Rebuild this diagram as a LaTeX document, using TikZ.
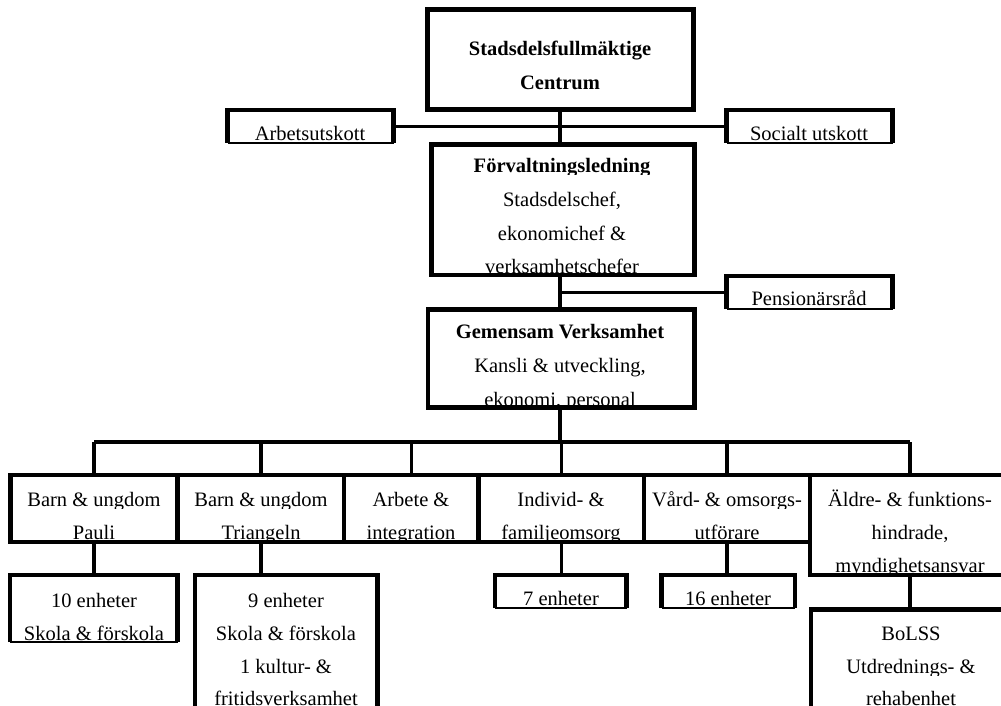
\documentclass[tikz,border=0pt]{standalone}
\usepackage{fontspec}
\setmainfont{Liberation Serif}

% one line of text, its descenders trimmed just under the baseline
\newcommand\cutline[4]{%
  \begin{scope}
    \clip ({#2-150},{#3-30}) rectangle ({#2+150},{#3+2});
    \node[txt] (#1) at (#2,#3) {#4};
  \end{scope}}
% one line of text, drawn whole
\newcommand\fullline[4]{\node[txt] (#1) at (#2,#3) {#4};}
% frame with heavy top and sides and a light bottom edge
\newcommand\lightbottom[1]{%
  \draw[heavy] (#1.south west) -- (#1.north west) -- (#1.north east) -- (#1.south east);
  \draw[light] (#1.south west) -- (#1.south east);}

\begin{document}
\begin{tikzpicture}[x=1pt,y=-1pt,
  box/.style={draw, line width=4.5pt, rectangle, inner sep=0pt, outer sep=0pt},
  openbox/.style={rectangle, inner sep=0pt, outer sep=0pt},
  heavy/.style={line width=4.5pt},
  light/.style={line width=2pt},
  link/.style={line width=3.5pt},
  txt/.style={anchor=base, inner sep=0pt, font=\fontsize{20.5}{33}\selectfont},
  bold/.style={font=\fontsize{20.5}{33}\selectfont\bfseries}]

\clip (0,0) rectangle (1001,706);
\fill[white] (0,0) rectangle (1001,706);

% ---- boxes ----
\node[box, minimum width=266pt, minimum height=100pt] (sdf) at (560.5,59.5) {};
\node[openbox, minimum width=166pt, minimum height=33pt] (arb) at (310.5,126.5) {};
\node[openbox, minimum width=166pt, minimum height=33pt] (soc) at (809.5,126.5) {};
\node[box, minimum width=263pt, minimum height=130.5pt] (forv) at (563,209.75) {};
\node[openbox, minimum width=166pt, minimum height=33pt] (pen) at (809.5,292.5) {};
\node[box, minimum width=266.5pt, minimum height=98pt] (gem) at (561,358.5) {};

\node[box, minimum width=167pt, minimum height=67pt] (bu1) at (94,508.5) {};
\node[box, minimum width=166.5pt, minimum height=67pt] (bu2) at (260.75,508.5) {};
\node[box, minimum width=134.5pt, minimum height=67pt] (arbi) at (411.25,508.5) {};
\node[box, minimum width=165.5pt, minimum height=67pt] (ifo) at (561.25,508.5) {};
\node[box, minimum width=166pt, minimum height=67pt] (vo) at (727,508.5) {};
\node[box, minimum width=200pt, minimum height=100pt] (aldre) at (910,525) {};

\node[openbox, minimum width=167.5pt, minimum height=67pt] (e10) at (93.75,608.5) {};
\node[box, minimum width=182.5pt, minimum height=145pt] (e9) at (286.25,647.5) {};
\node[openbox, minimum width=131.5pt, minimum height=33pt] (e7) at (560.75,591.5) {};
\node[openbox, minimum width=133.5pt, minimum height=33pt] (e16) at (728.25,591.5) {};
\node[box, minimum width=200pt, minimum height=111pt] (bolss) at (911,665) {};

\lightbottom{arb}
\lightbottom{soc}
\lightbottom{pen}
\lightbottom{e10}
\lightbottom{e7}
\lightbottom{e16}

% ---- connectors ----
\coordinate (bus) at (560,442);
\draw[link] (sdf.south -| bus) -- (forv.north -| bus);
\draw[link] (arb.east) -- (soc.west);
\draw[link] (forv.south -| bus) -- (gem.north -| bus);
\draw[link] (pen.west -| bus) -- (pen.west);
\draw[link] (gem.south -| bus) -- (bus);
\draw[link] (bu1.north |- bus) -- (aldre.north |- bus);
\foreach \n in {bu1,bu2,arbi,ifo,vo,aldre}
  \draw[link] (\n.north |- bus) -- (\n.north);
\draw[link] (bu1.south) -- (bu1.south |- e10.north);
\draw[link] (bu2.south) -- (bu2.south |- e9.north);
\draw[link] (ifo.south) -- (ifo.south |- e7.north);
\draw[link] (vo.south) -- (vo.south |- e16.north);
\draw[link] (aldre.south) -- (aldre.south |- bolss.north);

% ---- texts ----
\node[txt, bold] (t1) at (560,56) {Stadsdelsfullmäktige};
\node[txt, bold] (t2) at (560,90) {Centrum};
\cutline{t3}{310}{141}{Arbetsutskott}
\cutline{t4}{809}{141}{Socialt utskott}

\begin{scope}
  \clip (400,150) rectangle (720,174);
  \node[txt, bold] (t5) at (562,172) {Förvaltningsledning};
\end{scope}
\fullline{t6}{562}{206}{Stadsdelschef,}
\fullline{t7}{562}{240}{ekonomichef \&}
\cutline{t8}{562}{273}{verksamhetschefer}
\cutline{t9}{809}{305}{Pensionärsråd}

\node[txt, bold] (t10) at (560,338) {Gemensam Verksamhet};
\fullline{t11}{560}{372}{Kansli \& utveckling,}
\cutline{t12}{560}{406}{ekonomi, personal}

\cutline{t13}{94}{506}{Barn \& ungdom}
\cutline{t14}{94}{539}{Pauli}
\cutline{t15}{261}{506}{Barn \& ungdom}
\cutline{t16}{261}{539}{Triangeln}
\cutline{t17}{411}{506}{Arbete \&}
\cutline{t18}{411}{539}{integration}
\cutline{t19}{561}{506}{Individ- \&}
\cutline{t20}{561}{539}{familjeomsorg}
\cutline{t21}{727}{506}{Vård- \& omsorgs-}
\cutline{t22}{727}{539}{utförare}
\fullline{t23}{910}{506}{Äldre- \& funktions-}
\fullline{t24}{910}{539}{hindrade,}
\cutline{t25}{910}{572}{myndighetsansvar}

\fullline{t26}{94}{607}{10 enheter}
\cutline{t27}{94}{640}{Skola \& förskola}
\fullline{t28}{286}{607}{9 enheter}
\fullline{t29}{286}{640}{Skola \& förskola}
\fullline{t30}{286}{673}{1 kultur- \&}
\cutline{t31}{286}{705}{fritidsverksamhet}
\cutline{t32}{561}{605}{7 enheter}
\cutline{t33}{728}{605}{16 enheter}
\fullline{t34}{911}{640}{BoLSS}
\cutline{t35}{911}{673}{Utdrednings- \&}
\cutline{t36}{911}{705}{rehabenhet}
\end{tikzpicture}
\end{document}
